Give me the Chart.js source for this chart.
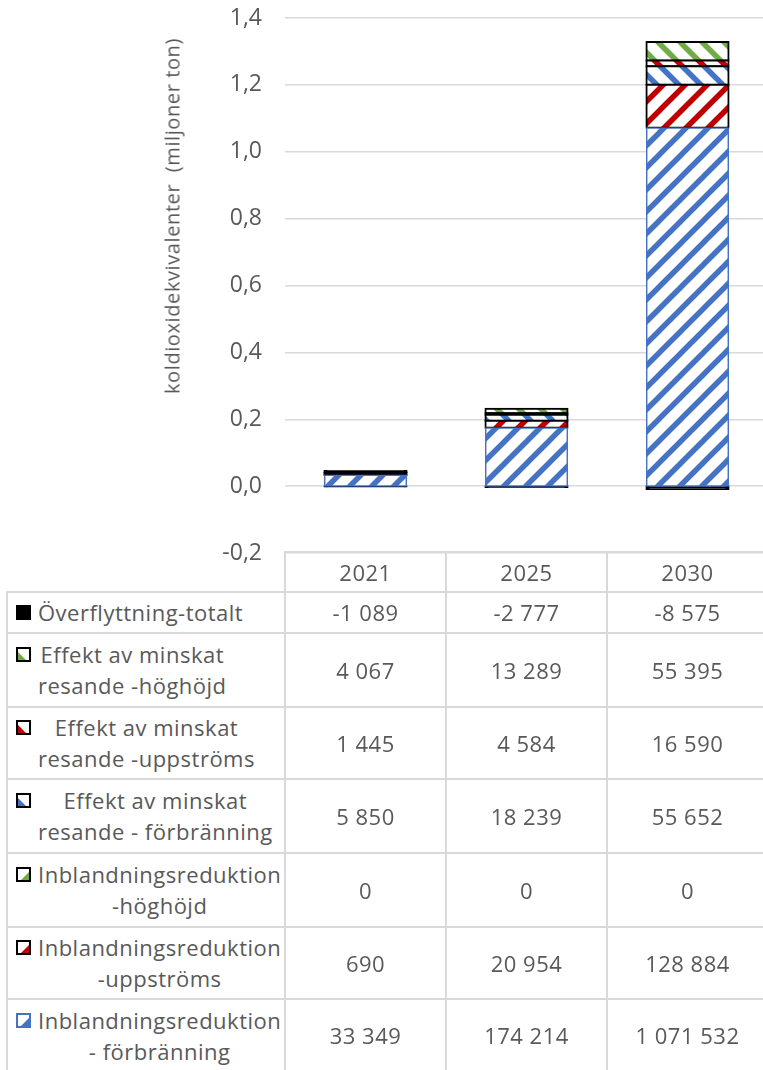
<!DOCTYPE html>
<html>
<head>
<meta charset="utf-8">
<script src="https://cdn.jsdelivr.net/npm/chart.js@4.4.0/dist/chart.umd.min.js"></script>
<style>
  html, body { margin: 0; padding: 0; background: #fff; overflow: hidden; }
  #wrap { position: relative; width: 763px; height: 1070px; overflow: hidden; font-family: "Open Sans", sans-serif; color: #595959; }
  #chart { position: absolute; left: 0; top: 0; }
  #ytitle { position: absolute; left: 172px; top: 216px; transform: translate(-50%, -50%) rotate(-90deg); white-space: pre; font-size: 20px; letter-spacing: 0.6px; }
  .hl, .vl { position: absolute; background: #d9d9d9; }
  .cell { position: absolute; display: flex; align-items: center; justify-content: center; font-size: 22px; letter-spacing: 0.5px; line-height: 31px; white-space: nowrap; }
  .lbl { position: absolute; font-size: 22px; letter-spacing: 0.5px; line-height: 31px; text-align: center; white-space: nowrap; }
  .key { position: absolute; }
</style>
</head>
<body>
<div id="wrap">
  <canvas id="chart" width="768" height="580"></canvas>
  <div id="ytitle">koldioxidekvivalenter  (miljoner ton)</div>
</div>
<script>
// values in ton, bars drawn in miljoner ton
const years = ['2021', '2025', '2030'];

// stack order, bottom to top
const seriesNames = [
  ['Inblandningsreduktion', '- förbränning'],
  ['Inblandningsreduktion', '-uppströms'],
  ['Inblandningsreduktion', '-höghöjd'],
  ['Effekt av minskat', 'resande - förbränning'],
  ['Effekt av minskat', 'resande -uppströms'],
  ['Effekt av minskat', 'resande -höghöjd'],
  ['Överflyttning-totalt']
];
const inblandForbranning = [33349, 174214, 1071532];
const inblandUppstroms = [690, 20954, 128884];
const inblandHoghojd = [0, 0, 0];
const effektForbranning = [5850, 18239, 55652];
const effektUppstroms = [1445, 4584, 16590];
const effektHoghojd = [4067, 13289, 55395];
const overflyttning = [-1089, -2777, -8575];

const seriesValues = [inblandForbranning, inblandUppstroms, inblandHoghojd,
  effektForbranning, effektUppstroms, effektHoghojd, overflyttning];

const BLUE = '#4472C4', RED = '#C00000', GREEN = '#70AD47';
const looks = [
  { color: BLUE, dir: '/', border: BLUE, bw: 1.5 },
  { color: RED, dir: '/', border: '#000', bw: 2 },
  { color: GREEN, dir: '/', border: '#000', bw: 2 },
  { color: BLUE, dir: '\\', border: '#000', bw: 2 },
  { color: RED, dir: '\\', border: '#000', bw: 2 },
  { color: GREEN, dir: '\\', border: '#000', bw: 2 },
  { color: '#000', dir: null, border: '#000', bw: 2 }
];

const canvas = document.getElementById('chart');
const ctx = canvas.getContext('2d');

function stripes(color, dir) {
  const s = 22;
  const c = document.createElement('canvas');
  c.width = s; c.height = s;
  const g = c.getContext('2d');
  g.fillStyle = '#fff';
  g.fillRect(0, 0, s, s);
  g.strokeStyle = color;
  g.lineWidth = 5.5;
  g.beginPath();
  for (let k = -1; k <= 1; k++) {
    // lines run past the tile so the joins at the corners stay solid
    if (dir === '/') { g.moveTo(k * s - 4, s + 4); g.lineTo(k * s + s + 4, -4); }
    else { g.moveTo(k * s - 4, -4); g.lineTo(k * s + s + 4, s + 4); }
  }
  g.stroke();
  return ctx.createPattern(c, 'repeat');
}

const datasets = seriesValues.map((vals, i) => {
  const lk = looks[i];
  const fill = lk.dir ? stripes(lk.color, lk.dir) : lk.color;
  return {
    label: seriesNames[i].join(' '),
    data: vals.map(v => v / 1e6),
    // very thin slices come out as just their outline, like in Excel
    backgroundColor: function(c) {
      const y = c.chart.scales.y;
      if (!y || c.raw === undefined) return fill;
      const h = Math.abs(y.getPixelForValue(c.raw) - y.getPixelForValue(0));
      return h < 2.5 ? lk.border : fill;
    },
    borderColor: lk.border,
    borderWidth: lk.bw,
    borderSkipped: false,
    inflateAmount: i === 0 ? 0.5 : 1,
    barPercentage: 0.51,
    categoryPercentage: 1.0
  };
});

new Chart(ctx, {
  type: 'bar',
  data: { labels: years, datasets: datasets },
  options: {
    responsive: false,
    animation: false,
    layout: { padding: { top: 18, right: 0, bottom: 27, left: 0 } },
    plugins: { legend: { display: false }, tooltip: { enabled: false } },
    scales: {
      x: { stacked: true, display: false },
      y: {
        stacked: true,
        min: -0.2,
        max: 1.4,
        afterFit: function(scale) {
          scale.width = 285;
          scale.paddingTop = 0;
          scale.paddingBottom = 0;
        },
        border: { display: false },
        grid: { color: '#d9d9d9', lineWidth: 1.5, drawTicks: false },
        ticks: {
          stepSize: 0.2,
          padding: 23,
          color: '#595959',
          font: { family: 'Open Sans', size: 23 },
          callback: v => (Math.abs(v) < 1e-9 ? 0 : v).toFixed(1).replace('.', ',')
        }
      }
    }
  }
});

// data table under the chart
const wrap = document.getElementById('wrap');
const colX = [7, 285, 446, 607, 768];
const rowTop = [552, 592, 633, 707, 779, 853, 927, 999, 1072];

function add(cls, css, html) {
  const d = document.createElement('div');
  d.className = cls;
  Object.assign(d.style, css);
  if (html !== undefined) d.innerHTML = html;
  wrap.appendChild(d);
  return d;
}

function fmt(n) {
  const s = String(Math.abs(n)).replace(/\B(?=(\d{3})+(?!\d))/g, ' ');
  return (n < 0 ? '-' : '') + s;
}

// grid lines
add('hl', { left: '285px', top: (rowTop[0] - 1) + 'px', width: '483px', height: '2px' });
for (let r = 1; r < rowTop.length - 1; r++) {
  add('hl', { left: '6px', top: (rowTop[r] - 1) + 'px', width: '762px', height: '2px' });
}
add('vl', { left: '6px', top: (rowTop[1] - 1) + 'px', width: '2px', height: (rowTop[8] - rowTop[1]) + 'px' });
for (let c = 1; c < 4; c++) {
  add('vl', { left: (colX[c] - 1) + 'px', top: (rowTop[0] - 1) + 'px', width: '2px', height: (rowTop[8] - rowTop[0]) + 'px' });
}

// header
years.forEach((y, c) => {
  add('cell', { left: colX[c + 1] + 'px', top: rowTop[0] + 'px', width: (colX[c + 2] - colX[c + 1]) + 'px', height: (rowTop[1] - rowTop[0]) + 'px' }, y);
});

function keyCanvas(lk) {
  const k = document.createElement('canvas');
  k.width = 15; k.height = 15;
  const g = k.getContext('2d');
  g.fillStyle = '#fff';
  g.fillRect(0, 0, 15, 15);
  g.fillStyle = lk.color;
  if (!lk.dir) {
    g.fillRect(0, 0, 15, 15);
  } else {
    g.beginPath();
    if (lk.dir === '/') { g.moveTo(15, 3); g.lineTo(15, 15); g.lineTo(3, 15); }
    else { g.moveTo(0, 3); g.lineTo(0, 15); g.lineTo(12, 15); }
    g.closePath();
    g.fill();
  }
  g.strokeStyle = lk.border;
  g.lineWidth = 2;
  g.strokeRect(1, 1, 13, 13);
  return k;
}

// body rows, top row is the top of the stack
for (let r = 0; r < seriesNames.length; r++) {
  const i = seriesNames.length - 1 - r;
  const top = rowTop[r + 1], h = rowTop[r + 2] - rowTop[r + 1];
  const lines = seriesNames[i];
  const blockH = lines.length * 31;
  const bt = top + Math.round((h - blockH) / 2);
  add('lbl', { left: '38px', top: bt + 'px' }, lines.join('<br>'));
  const kc = keyCanvas(looks[i]);
  kc.className = 'key';
  kc.style.left = '16px';
  kc.style.top = (bt + 8) + 'px';
  wrap.appendChild(kc);
  seriesValues[i].forEach((v, c) => {
    add('cell', { left: colX[c + 1] + 'px', top: top + 'px', width: (colX[c + 2] - colX[c + 1]) + 'px', height: h + 'px' }, fmt(v));
  });
}
</script>
</body>
</html>
